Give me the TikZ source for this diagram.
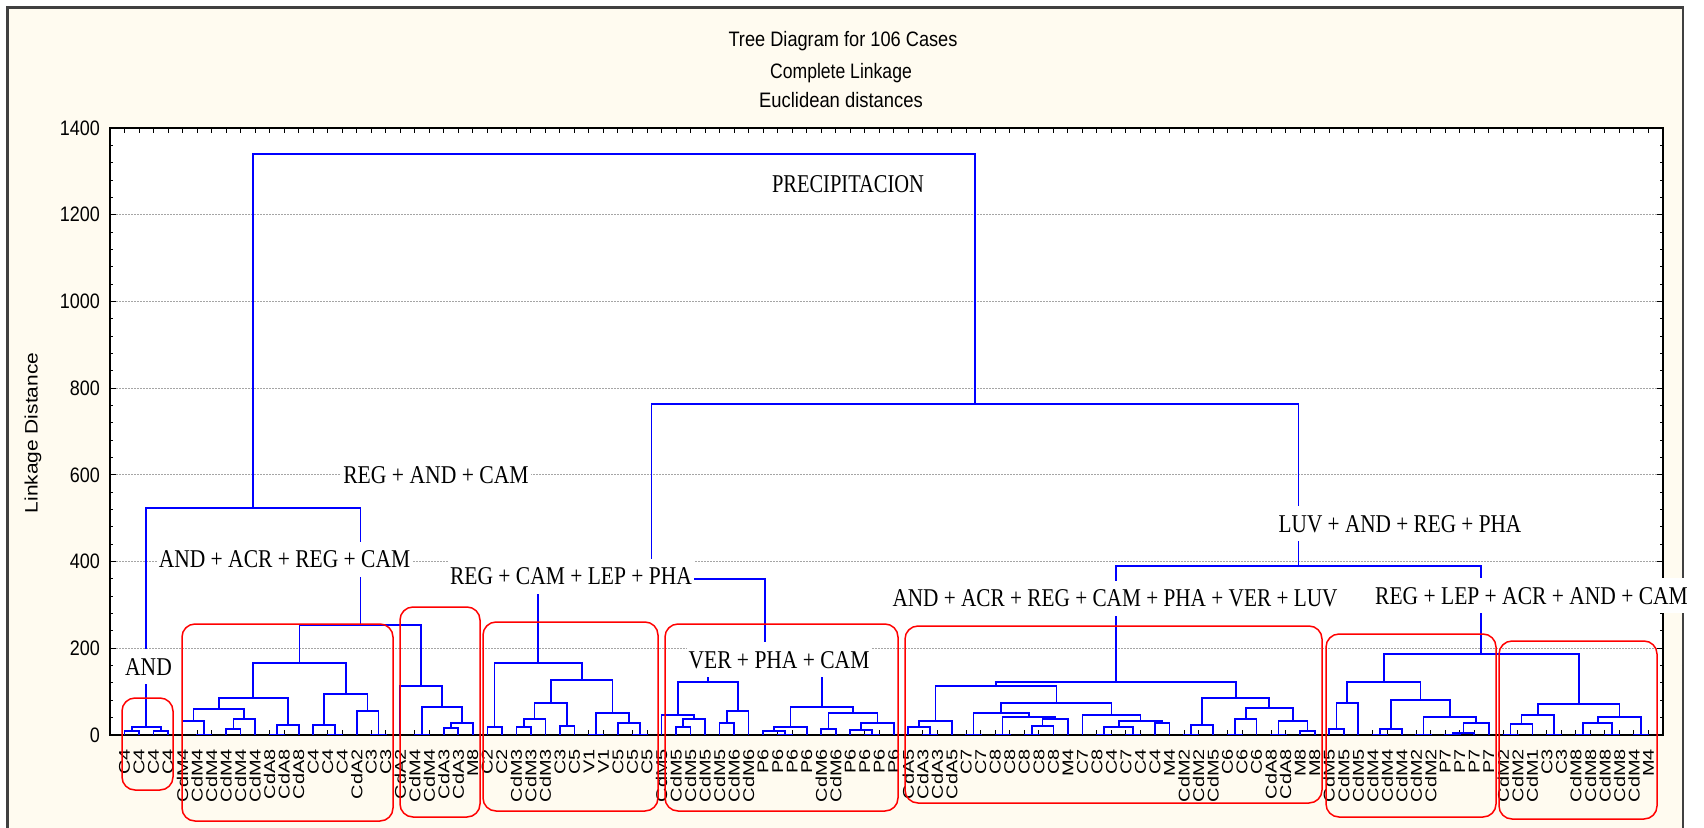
\documentclass[tikz,border=0pt]{standalone}
\usepackage{fontspec}
\setmainfont{Liberation Serif}
\newfontfamily\sansf{Liberation Sans}
\usetikzlibrary{calc}
\definecolor{paper}{RGB}{255,251,240}
\definecolor{treeblue}{RGB}{0,0,255}
\definecolor{boxred}{RGB}{255,0,0}
\definecolor{gridgray}{RGB}{165,165,165}
% merge two clusters #1,#2 into node #3 at linkage distance #4
\newcommand\mrg[4]{%
  \path let \p1=(#1), \p2=(#2) in coordinate (#3) at ({0.5*(\x1+\x2)}, {(0.43357*#4-735)*1bp});
  \draw[dendro] (#1) |- (#3) -| (#2);}
% pixel row of a linkage distance
\newcommand\vy[1]{735-0.43357*#1}
\begin{document}
\begin{tikzpicture}[x=1bp,y=-1bp,
  dendro/.style={draw=treeblue, line width=1.7bp},
  gridline/.style={draw=gridgray, line width=1bp, dash pattern=on 1.5bp off 1.5bp},
  grp/.style={draw=boxred, line width=1.5bp, rounded corners=13bp},
  note/.style={fill=white, inner xsep=2bp, inner ysep=2bp, text height=24bp, text depth=7bp,
    anchor=base, font=\fontsize{25.7}{30}\selectfont},
  leaflab/.style={rotate=90, anchor=east, inner sep=0pt, font=\sansf\fontsize{20}{22}\selectfont},
  ticklab/.style={anchor=east, inner sep=0pt, font=\sansf\fontsize{21}{24}\selectfont},
  titlelab/.style={anchor=base, inner sep=0pt, font=\sansf\fontsize{21}{24}\selectfont}]
\useasboundingbox (0,0) rectangle (1704,828);
\clip (0,0) rectangle (1704,828);
\fill[white] (0,0) rectangle (1704,828);
% outer panel
\fill[paper] (7.5,7.5) rectangle (1683,840);
\draw[line width=2.5bp, black!75] (7.5,840) -- (7.5,7.5) -- (1683,7.5) -- (1683,840);
% titles
\node[titlelab] (t1) at (843,46.7) {\scalebox{0.87}[1]{Tree Diagram for 106 Cases}};
\node[titlelab] (t2) at (841,78) {\scalebox{0.84}[1]{Complete Linkage}};
\node[titlelab] (t3) at (841,107) {\scalebox{0.88}[1]{Euclidean distances}};
\node[rotate=90, inner sep=0pt, font=\sansf\fontsize{21}{24}\selectfont] (ylab) at (33,433)
  {\scalebox{1}[0.86]{Linkage Distance}};
% plot area
\fill[white] (110,128) rectangle (1663,735);
\foreach \v in {200,400,...,1200} \draw[gridline] (110,{\vy{\v}}) -- (1663,{\vy{\v}});
\draw[line width=1.5bp] (110,128) rectangle (1663,735);
\foreach \v in {40,80,...,1360} {
  \draw[line width=1bp] (110,{\vy{\v}}) -- (113,{\vy{\v}});
  \draw[line width=1bp] (1663,{\vy{\v}}) -- (1660,{\vy{\v}});}
\foreach \v in {0,200,...,1400} {
  \draw[line width=1.2bp] (110,{\vy{\v}}) -- (116,{\vy{\v}});
  \draw[line width=1.2bp] (1663,{\vy{\v}}) -- (1657,{\vy{\v}});
  \node[ticklab] (tk\v) at (100,{\vy{\v}}) {\scalebox{0.86}[1]{\v}};}
% leaves
\foreach \lab [count=\i] in {C4,C4,C4,C4,
  CdM4,CdM4,CdM4,CdM4,CdM4,CdM4,CdA8,CdA8,CdA8,C4,C4,C4,CdA2,C3,C3,
  CdA2,CdM4,CdM4,CdA3,CdA3,M8,
  C2,C2,CdM3,CdM3,CdM3,C3,C5,V1,V1,C5,C5,C5,
  CdM5,CdM5,CdM5,CdM5,CdM5,CdM6,CdM6,P6,P6,P6,P6,CdM6,CdM6,P6,P6,P6,P6,
  CdA5,CdA3,CdA3,CdA5,C7,C7,C8,C8,C8,C8,C8,M4,C7,C8,C4,C7,C4,C4,M4,CdM2,CdM2,CdM5,C6,C6,C6,CdA8,CdA8,M8,M8,
  CdM5,CdM5,CdM5,CdM4,CdM4,CdM4,CdM2,CdM2,P7,P7,P7,P7,
  CdM2,CdM2,CdM1,C3,C3,CdM8,CdM8,CdM8,CdM8,CdM4,M4} {
  \coordinate (L\i) at ({110+14.514*\i},735);
  \draw[line width=1bp] ({110+14.514*\i},735) -- ({110+14.514*\i},730);
  \draw[line width=1bp] ({110+14.514*\i},128) -- ({110+14.514*\i},133);
  \node[leaflab] (T\i) at ({110+14.514*\i},749) {\scalebox{1}[0.78]{\lab}};}
% dendrogram
\mrg{L1}{L2}{a1}{9}
\mrg{L3}{L4}{a2}{9}
\mrg{a1}{a2}{a3}{18}
\mrg{L6}{L7}{b1}{1.5}
\mrg{L5}{b1}{b2}{32}
\mrg{L8}{L9}{b3}{14}
\mrg{b3}{L10}{b4}{37}
\mrg{b2}{b4}{b5}{60}
\mrg{L11}{L12}{b6}{1.5}
\mrg{b6}{L13}{b7}{23}
\mrg{b5}{b7}{b8}{85}
\mrg{L15}{L16}{b9}{1.5}
\mrg{L14}{b9}{b10}{23}
\mrg{L18}{L19}{b11}{1.5}
\mrg{L17}{b11}{b12}{55}
\mrg{b10}{b12}{b13}{95}
\mrg{b8}{b13}{b14}{166}
\mrg{L21}{L22}{c1}{1.5}
\mrg{L23}{L24}{c2}{16}
\mrg{c2}{L25}{c3}{28}
\mrg{c1}{c3}{c4}{65}
\mrg{L20}{c4}{c5}{113}
\mrg{b14}{c5}{d}{254}
\mrg{a3}{d}{e}{524}
\mrg{L26}{L27}{f1}{18}
\mrg{L28}{L29}{f2}{18}
\mrg{f2}{L30}{f3}{37}
\mrg{L31}{L32}{f4}{21}
\mrg{f3}{f4}{f5}{74}
\mrg{L33}{L34}{f6}{1.5}
\mrg{L36}{L37}{f7}{1.5}
\mrg{L35}{f7}{f8}{28}
\mrg{f6}{f8}{f9}{51}
\mrg{f5}{f9}{f10}{127}
\mrg{f1}{f10}{f11}{166}
\mrg{L39}{L40}{g1}{18}
\mrg{g1}{L41}{g2}{37}
\mrg{L38}{g2}{g3}{46}
\mrg{L42}{L43}{g4}{28}
\mrg{g4}{L44}{g5}{55}
\mrg{g3}{g5}{g6}{122}
\mrg{L46}{L47}{g7}{1.5}
\mrg{L45}{g7}{g8}{9}
\mrg{g8}{L48}{g9}{18}
\mrg{L49}{L50}{g10}{14}
\mrg{L52}{L53}{g11}{1.5}
\mrg{L51}{g11}{g12}{12}
\mrg{g12}{L54}{g13}{28}
\mrg{g10}{g13}{g14}{51}
\mrg{g9}{g14}{g15}{65}
\mrg{g6}{g15}{g16}{180}
\mrg{f11}{g16}{h1}{360}
\mrg{L56}{L57}{i1}{1.5}
\mrg{L55}{i1}{i2}{18}
\mrg{i2}{L58}{i3}{32}
\mrg{L59}{L60}{i4}{1.5}
\mrg{L61}{L62}{i5}{1.5}
\mrg{L63}{L64}{i6}{1.5}
\mrg{i6}{L65}{i7}{21}
\mrg{i7}{L66}{i8}{37}
\mrg{i5}{i8}{i9}{42}
\mrg{i4}{i9}{i10}{51}
\mrg{L68}{L69}{i11}{1.5}
\mrg{L70}{L71}{i12}{1.5}
\mrg{i11}{i12}{i13}{18}
\mrg{L72}{L73}{i14}{28}
\mrg{i13}{i14}{i15}{32}
\mrg{L67}{i15}{i16}{46}
\mrg{i10}{i16}{i17}{74}
\mrg{i3}{i17}{i18}{113}
\mrg{L74}{L75}{j1}{1.5}
\mrg{j1}{L76}{j2}{23}
\mrg{L77}{L78}{j3}{1.5}
\mrg{j3}{L79}{j4}{37}
\mrg{L80}{L81}{j5}{1.5}
\mrg{L82}{L83}{j6}{9}
\mrg{j5}{j6}{j7}{32}
\mrg{j4}{j7}{j8}{62}
\mrg{j2}{j8}{j9}{85}
\mrg{i18}{j9}{i19}{123}
\mrg{L84}{L85}{k1}{14}
\mrg{k1}{L86}{k2}{74}
\mrg{L87}{L88}{k3}{1.5}
\mrg{k3}{L89}{k4}{14}
\mrg{L90}{L91}{k5}{1.5}
\mrg{L92}{L93}{k6}{1.5}
\mrg{k6}{L94}{k6b}{5}
\mrg{k6b}{L95}{k7}{28}
\mrg{k5}{k7}{k8}{42}
\mrg{k4}{k8}{k9}{81}
\mrg{k2}{k9}{k10}{123}
\mrg{L96}{L97}{l1}{1.5}
\mrg{l1}{L98}{l2}{25}
\mrg{L99}{L100}{l3}{1.5}
\mrg{l2}{l3}{l4}{46}
\mrg{L101}{L102}{l5}{1.5}
\mrg{L103}{L104}{l6}{1.5}
\mrg{l5}{l6}{l7}{28}
\mrg{L105}{L106}{l8}{1.5}
\mrg{l7}{l8}{l9}{41}
\mrg{l4}{l9}{l10}{72}
\mrg{k10}{l10}{m1}{187}
\mrg{i19}{m1}{m2}{390}
\mrg{h1}{m2}{n}{763}
\mrg{e}{n}{root}{1340}
% groups
\draw[grp] (122,698) rectangle (173,790);
\draw[grp] (182,624) rectangle (393,821);
\draw[grp] (400,607) rectangle (480,817);
\draw[grp] (483,622) rectangle (658,811);
\draw[grp] (665,624) rectangle (898,811);
\draw[grp] (905,626) rectangle (1322,803);
\draw[grp] (1326,634) rectangle (1496,817);
\draw[grp] (1499,641) rectangle (1657,819);
% annotations
\node[note] (n1) at (848,192) {\scalebox{0.8}[1]{PRECIPITACION}};
\node[note] (n2) at (436,483.5) {\scalebox{0.845}[1]{REG + AND + CAM}};
\node[note] (n3) at (284.5,567.5) {\scalebox{0.84}[1]{AND + ACR + REG + CAM}};
\node[note] (n4) at (148.5,675) {\scalebox{0.84}[1]{AND}};
\node[note] (n5) at (571,584.5) {\scalebox{0.84}[1]{REG + CAM + LEP + PHA}};
\node[note] (n6) at (779,668) {\scalebox{0.84}[1]{VER + PHA + CAM}};
\node[note] (n7) at (1115,606.5) {\scalebox{0.83}[1]{AND + ACR + REG + CAM + PHA + VER + LUV}};
\node[note] (n8) at (1400,532) {\scalebox{0.83}[1]{LUV + AND + REG + PHA}};
\node[note] (n9) at (1531.5,604) {\scalebox{0.84}[1]{REG + LEP + ACR + AND + CAM}};
\end{tikzpicture}
\end{document}
